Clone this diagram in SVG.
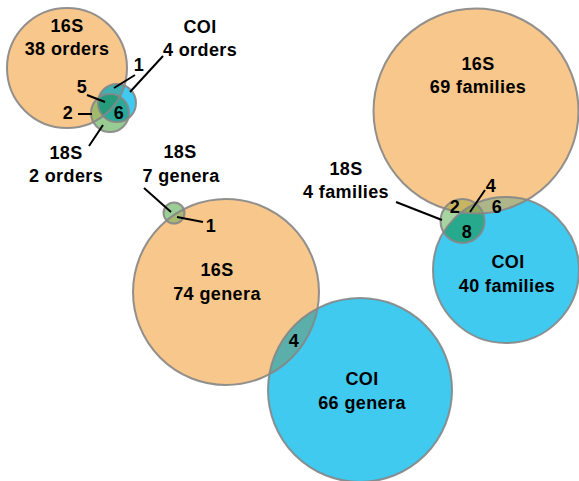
<svg xmlns="http://www.w3.org/2000/svg" width="579" height="481" viewBox="0 0 579 481">
<style>
text{font-family:"Liberation Sans",Arial,sans-serif;font-weight:bold;font-size:18px;letter-spacing:0.4px;fill:#000;text-anchor:middle}
.o{fill:#F8C78C}
.b{fill:#40CAF0}
.ring{fill:none;stroke:#868686;stroke-width:2;stroke-opacity:0.9}
.ln{stroke:#000;stroke-width:2;fill:none}
</style>
<defs>
<clipPath id="cO1"><circle cx="67" cy="68" r="60"/></clipPath>
<clipPath id="cB1"><circle cx="117" cy="103" r="19"/></clipPath>
<clipPath id="cO2"><circle cx="226" cy="292" r="93"/></clipPath>
<clipPath id="cO3"><circle cx="476" cy="111" r="102.5"/></clipPath>
<clipPath id="cB3"><circle cx="506" cy="270" r="73"/></clipPath>
</defs>
<rect width="579" height="481" fill="#fff"/>

<!-- top-left: orders -->
<g id="orders-16S">
<circle class="o" cx="67" cy="68" r="60"/>
<text x="67" y="32">16S</text>
<text x="67" y="55">38 orders</text>
</g>
<g id="orders-COI">
<circle class="b" cx="117" cy="103" r="19"/>
<circle cx="117" cy="103" r="19" fill="#3FAFB4" clip-path="url(#cO1)"/>
<text x="200" y="33">COI</text>
<text x="200" y="56">4 orders</text>
</g>
<g id="orders-18S">
<circle cx="110" cy="113" r="19" fill="#98CC92"/>
<circle cx="110" cy="113" r="19" fill="#A2B96C" clip-path="url(#cO1)"/>
<circle cx="110" cy="113" r="19" fill="#2AA99B" clip-path="url(#cB1)"/>
<g clip-path="url(#cO1)"><circle cx="110" cy="113" r="19" fill="#279C7D" clip-path="url(#cB1)"/></g>
<text x="66" y="159">18S</text>
<text x="66" y="182">2 orders</text>
</g>

<!-- middle: genera -->
<g id="genera-16S">
<circle class="o" cx="226" cy="292" r="93"/>
<text x="217" y="276">16S</text>
<text x="217" y="300">74 genera</text>
</g>
<g id="genera-COI">
<circle class="b" cx="360" cy="390" r="92"/>
<circle cx="360" cy="390" r="92" fill="#5AAFAB" clip-path="url(#cO2)"/>
<text x="362" y="385">COI</text>
<text x="362" y="409">66 genera</text>
</g>
<g id="genera-18S">
<circle cx="174" cy="213" r="10.5" fill="#9CCD96"/>
<circle cx="174" cy="213" r="10.5" fill="#A9B872" clip-path="url(#cO2)"/>
<text x="180" y="158">18S</text>
<text x="181" y="182">7 genera</text>
</g>

<!-- right: families -->
<g id="families-16S">
<circle class="o" cx="476" cy="111" r="102.5"/>
<text x="478" y="70">16S</text>
<text x="478" y="93">69 families</text>
</g>
<g id="families-COI">
<circle class="b" cx="506" cy="270" r="73"/>
<circle cx="506" cy="270" r="73" fill="#AEB589" clip-path="url(#cO3)"/>
<text x="508" y="268">COI</text>
<text x="507" y="292">40 families</text>
</g>
<g id="families-18S">
<circle cx="462.5" cy="221" r="22" fill="#A8D4A2"/>
<circle cx="462.5" cy="221" r="22" fill="#C8B563" clip-path="url(#cO3)"/>
<circle cx="462.5" cy="221" r="22" fill="#27A98E" clip-path="url(#cB3)"/>
<g clip-path="url(#cO3)"><circle cx="462.5" cy="221" r="22" fill="#8FA85E" clip-path="url(#cB3)"/></g>
<text x="346" y="175">18S</text>
<text x="346" y="198">4 families</text>
</g>

<!-- outlines -->
<g id="outlines">
<circle class="ring" cx="67" cy="68" r="60"/>
<circle class="ring" cx="117" cy="103" r="19"/>
<circle class="ring" cx="110" cy="113" r="19"/>
<circle class="ring" cx="226" cy="292" r="93"/>
<circle class="ring" cx="360" cy="390" r="92"/>
<circle class="ring" cx="174" cy="213" r="10.5"/>
<circle class="ring" cx="476" cy="111" r="102.5"/>
<circle class="ring" cx="506" cy="270" r="73"/>
<circle class="ring" cx="462.5" cy="221" r="22"/>
</g>

<g id="connectors">
<line class="ln" x1="135" y1="75" x2="114" y2="88"/>
<line class="ln" x1="163" y1="56" x2="130" y2="92"/>
<line class="ln" x1="87" y1="95" x2="105" y2="102"/>
<line class="ln" x1="78" y1="114" x2="92" y2="114"/>
<line class="ln" x1="89" y1="146" x2="103" y2="125"/>
<line class="ln" x1="144" y1="188" x2="171" y2="212"/>
<line class="ln" x1="177" y1="217" x2="203" y2="222"/>
<line class="ln" x1="396" y1="202" x2="442" y2="220"/>
<line class="ln" x1="485" y1="190" x2="470" y2="212"/>
</g>

<g id="overlap-counts">
<text x="139" y="71">1</text>
<text x="82" y="93">5</text>
<text x="68" y="119">2</text>
<text x="119" y="119">6</text>
<text x="211" y="232">1</text>
<text x="294" y="347">4</text>
<text x="455" y="213">2</text>
<text x="491" y="192">4</text>
<text x="497" y="213">6</text>
<text x="467" y="238">8</text>
</g>
</svg>
